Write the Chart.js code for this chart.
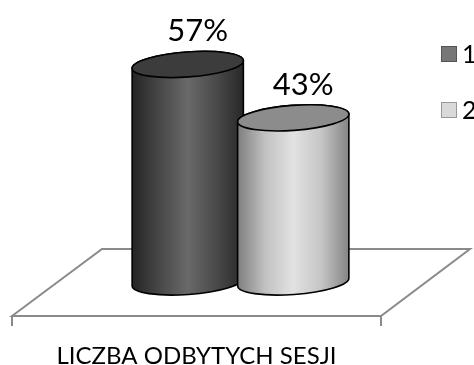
<!DOCTYPE html>
<html>
<head>
<meta charset="utf-8">
<script src="https://cdn.jsdelivr.net/npm/chart.js@4"></script>
<style>
  html, body { margin: 0; padding: 0; background: #fff; overflow: hidden; }
  #wrap { width: 474px; height: 365px; position: relative; }
</style>
</head>
<body>
<div id="wrap"><canvas id="chartSesje"></canvas></div>
<script>
const categories = ['LICZBA ODBYTYCH SESJI'];
const seriesNames = ['1 sesja', '2 sesje'];
const sesja1 = [57];
const sesja2 = [43];

// body gradient stops and top face colour per series
const looks = [
  { stops: ['#242424', '#484848', '#696969', '#4a4a4a', '#282828'], top: '#3c3c3c', box: '#777777', boxLine: '#555555' },
  { stops: ['#7e7e7e', '#c2c2c2', '#e2e2e2', '#c6c6c6', '#848484'], top: '#8c8c8c', box: '#d9d9d9', boxLine: '#999999' }
];

const TILT = -0.072;
const RY = 12.5;

function bodyGradient(ctx, x0, x1, stops) {
  const g = ctx.createLinearGradient(x0, 0, x1, 0);
  stops.forEach((c, i) => g.addColorStop(i / (stops.length - 1), c));
  return g;
}

const cylinders = {
  id: 'cylinders',
  beforeDatasetsDraw(chart) {
    // floor plate
    const { ctx, chartArea: a } = chart;
    const base = chart.scales.y.getPixelForValue(0);
    const back = base - 33, front = base + 34;
    ctx.save();
    ctx.strokeStyle = '#8a8a8a';
    ctx.lineWidth = 2;
    ctx.beginPath();
    ctx.moveTo(a.left - 88, front);
    ctx.lineTo(a.left + 2, back);
    ctx.lineTo(a.right + 89, back);
    ctx.lineTo(a.right, front);
    ctx.closePath();
    ctx.moveTo(a.left - 88, front);
    ctx.lineTo(a.left - 88, front + 10);
    ctx.moveTo(a.right, front);
    ctx.lineTo(a.right, front + 10);
    ctx.stroke();
    ctx.restore();
  },
  afterDatasetsDraw(chart) {
    const { ctx } = chart;
    chart.data.datasets.forEach((ds, di) => {
      const meta = chart.getDatasetMeta(di);
      const look = looks[di];
      meta.data.forEach((bar, i) => {
        const rx = bar.width / 2;
        const cx = bar.x, top = bar.y, base = bar.base;
        ctx.save();
        ctx.lineWidth = 1.6;
        ctx.strokeStyle = '#000';
        ctx.beginPath();
        ctx.ellipse(cx, base, rx, RY, TILT, 0, Math.PI);
        ctx.lineTo(cx - rx * Math.cos(TILT), top - rx * Math.sin(TILT));
        ctx.ellipse(cx, top, rx, RY, TILT, Math.PI, Math.PI * 2);
        ctx.closePath();
        ctx.fillStyle = bodyGradient(ctx, cx - rx, cx + rx, look.stops);
        ctx.fill();
        ctx.stroke();
        ctx.beginPath();
        ctx.ellipse(cx, top, rx, RY, TILT, 0, Math.PI * 2);
        ctx.fillStyle = look.top;
        ctx.fill();
        ctx.stroke();
        ctx.restore();
      });
    });
    // value labels
    ctx.save();
    ctx.font = '31px Lato';
    ctx.fillStyle = '#000';
    ctx.textAlign = 'center';
    ctx.textBaseline = 'alphabetic';
    chart.data.datasets.forEach((ds, di) => {
      chart.getDatasetMeta(di).data.forEach((bar, i) => {
        ctx.fillText(ds.data[i] + '%', bar.x + 10, bar.y - 23);
      });
    });
    ctx.restore();
  },
  afterDraw(chart) {
    // legend on the right, running past the canvas edge
    const { ctx } = chart;
    ctx.save();
    ctx.font = '25px Lato';
    ctx.textBaseline = 'middle';
    chart.data.datasets.forEach((ds, di) => {
      const y = 46 + di * 56;
      ctx.fillStyle = looks[di].box;
      ctx.fillRect(441, y, 16, 16);
      ctx.strokeStyle = looks[di].boxLine;
      ctx.lineWidth = 1;
      ctx.strokeRect(441.5, y + 0.5, 15, 15);
      ctx.fillStyle = '#000';
      ctx.fillText(ds.label, 462, y + 9);
    });
    ctx.restore();
  }
};

new Chart(document.getElementById('chartSesje'), {
  type: 'bar',
  data: {
    labels: categories,
    datasets: [
      { label: seriesNames[0], data: sesja1, backgroundColor: 'rgba(0,0,0,0)' },
      { label: seriesNames[1], data: sesja2, backgroundColor: 'rgba(0,0,0,0)' }
    ]
  },
  options: {
    responsive: true,
    maintainAspectRatio: false,
    animation: false,
    layout: { padding: { left: 100, right: 93, top: 53, bottom: 0 } },
    datasets: { bar: { categoryPercentage: 0.751, barPercentage: 1.057 } },
    plugins: { legend: { display: false }, tooltip: { enabled: false } },
    scales: {
      x: {
        grid: { display: false, drawTicks: false },
        border: { display: false },
        ticks: { font: { family: 'Lato', size: 24 }, color: '#000', padding: 60, labelOffset: -44, maxRotation: 0 },
        afterFit(scale) {
          // fixed axis band; the wide label must not squeeze the plot
          scale.height = 83;
          scale.paddingLeft = 0;
          scale.paddingRight = 0;
        }
      },
      y: { display: false, min: 0, max: 60 }
    }
  },
  plugins: [cylinders]
});
</script>
</body>
</html>
